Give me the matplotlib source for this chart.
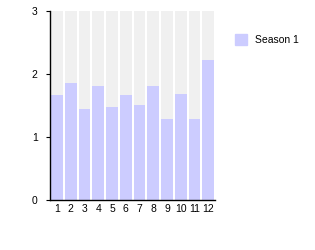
import matplotlib
matplotlib.use("Agg")
import matplotlib.pyplot as plt
from matplotlib.patches import Patch

plt.rcParams["font.family"] = ["Liberation Sans", "DejaVu Sans"]

months = [1, 2, 3, 4, 5, 6, 7, 8, 9, 10, 11, 12]
season1 = [1.67, 1.85, 1.45, 1.81, 1.47, 1.67, 1.51, 1.81, 1.28, 1.68, 1.28, 2.22]
y_max = 3

fig = plt.figure(figsize=(3.15, 2.5), dpi=100)
ax = fig.add_axes([0.159, 0.2, 0.524, 0.756])

# grey background columns, then the data bars on top
ax.bar(months, [y_max] * len(months), width=0.86, color="#f0f0f0", linewidth=0)
ax.bar(months, season1, width=0.86, color="#ccccff", linewidth=0)

ax.set_xlim(0.5, 12.5)
ax.set_ylim(0, y_max)
ax.set_xticks(months)
ax.set_yticks([0, 1, 2, 3])
ax.tick_params(axis="x", length=0, labelsize=7.5, pad=3)
ax.tick_params(axis="y", length=3, width=0.8, labelsize=7.5, pad=6)
for s in ["top", "right"]:
    ax.spines[s].set_visible(False)
ax.spines["left"].set_linewidth(1)
ax.spines["bottom"].set_linewidth(1)

fig.legend(handles=[Patch(color="#ccccff", label="Season 1")],
           loc="upper left", bbox_to_anchor=(0.715, 0.9), frameon=False,
           fontsize=7.5, handlelength=1.2, handleheight=1.2)

fig.savefig("out.png", dpi=100)
